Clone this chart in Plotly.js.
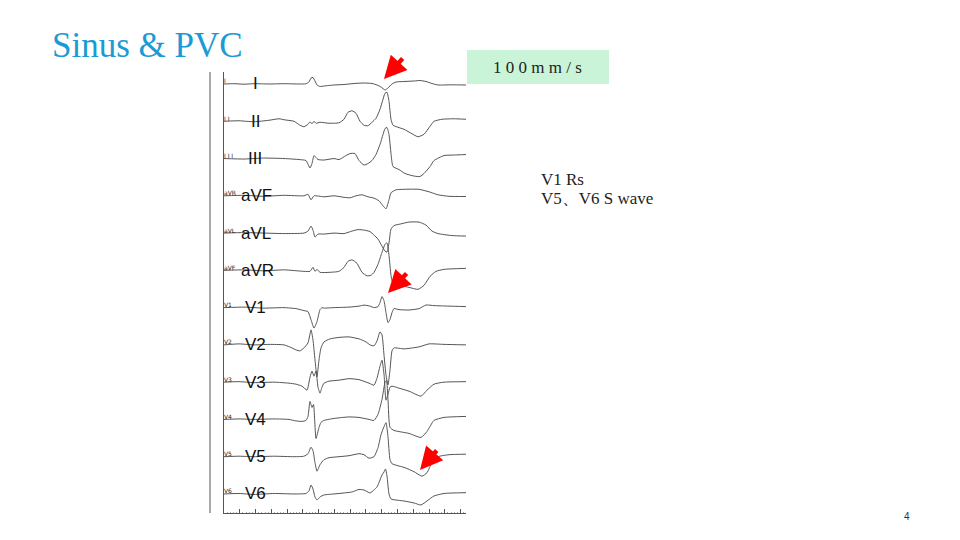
<!DOCTYPE html>
<html>
<head>
<meta charset="utf-8">
<script src="https://cdn.plot.ly/plotly-3.0.1.min.js"></script>
<style>html,body{margin:0;padding:0;background:#fff;}#chart{width:960px;height:540px;}</style>
</head>
<body>
<div id="chart"></div>
<script>
// Samples at 400 Hz (2.5 ms per sample); amplitude in mm (0.1 mV)
const leadNames = ['I','II','III','aVF','aVL','aVR','V1','V2','V3','V4','V5','V6'];
const printedLabels = ['I','I I','I I I','aVR','aVL','aVF','V1','V2','V3','V4','V5','V6'];

const tI = [0,10,20,30,45,60,75,82,85,87,89,91,93,96,100,110,120,130,140,148,153,157,161,164,168,172,180,190,196,202,208,214,228,242];
const vI = [0,0.3,-0.2,0.3,0,0.3,0,0.2,2,6,6.5,3,-1,-2.5,-2,-1,-0.5,0.5,1,0.5,-1,-3,-6,-4,0,2,2.5,3,3.5,2.5,0.5,-1,-0.8,-1];

const tII = [0,15,30,45,55,60,70,76,80,84,86,88,90,92,96,105,115,120,124,128,132,136,140,144,148,152,156,159,161,163,165,167,169,174,180,188,194,200,206,210,218,230,242];
const vII = [0,0.5,-0.5,1,2.5,1.5,0,-4,-5.5,-3,-0.5,-2.5,0,-2,-1,-2,-1.5,2,9,10.5,8,0,-4,-4.5,-1,3,12,22,28,29,20,2,-4,-6,-8,-12.5,-15.5,-13,-5,0,2,2.5,2];

const tIII = [0,20,40,60,75,82,86,88,90,92,94,100,110,115,122,126,131,135,140,144,148,152,156,159,161,163,165,167,169,175,181,190,196,200,206,210,220,230,242];
const vIII = [0,-0.5,0.5,0,-1,-2,-9.5,-5,3,1,-1,-1.5,0,-1,3,5,5,-2,-6.5,-5,-2,4,14,24,30,31,24,5,-8,-11,-15,-17.5,-18,-15,-8,-2,3,3.5,4];

const taVF = [0,20,40,60,80,84,87,90,100,110,120,126,132,138,144,150,155,159,162,165,167,172,180,195,205,214,225,242];
const vaVF = [0,0.5,-0.5,0.5,0,1.5,-4,0,-1,0,-1.5,-2,0,1,-1,-2.3,-5,-10,-13,-4,3,6,6.5,6.5,4,1,-0.5,-0.7];

const taVL = [0,20,40,60,80,84,87,89,91,94,100,110,120,128,134,140,146,150,154,158,161,163,165,167,170,176,185,195,202,208,214,228,242];
const vaVL = [0,0.5,0,-0.5,0,2,7,3,-4,-1,-1,0,-0.5,2,3.5,3,1.5,-2,-6,-13,-18,-19,-10,4,7.5,9,11,11,8,2,-0.5,-2.5,-3];

const taVR = [0,20,40,60,80,86,89,91,93,96,105,115,120,124,128,133,138,143,147,150,154,158,161,163,165,167,169,176,185,194,200,206,212,220,242];
const vaVR = [0,0.5,-0.5,0.5,-1,-1,3,-1,1,-2,-2,-1,3,9,10.5,7,-2,-5.5,-5,-2,6,18,26,27.5,15,-5,-13,-15,-17,-19,-15,-6,-1,1,2];

const tV1 = [0,20,40,60,72,80,84,87,90,93,96,98,100,110,125,135,140,146,150,154,156,158,160,162,164,166,168,170,175,185,195,202,210,225,242];
const vV1 = [0,0.5,-0.5,0,-1,-3,-4,-12,-20.5,-14,-2,0,-0.5,0,0.5,1.5,2.5,1.5,0,1,5,11,7,-5,-15,-12,-5,-1,-2,-2.4,-1,2.6,2,1.5,1];

const tV2 = [0,15,30,45,60,68,72,76,80,84,87,89,91,93,95,97,100,106,115,125,135,142,146,150,153,156,158,160,162,164,166,168,170,180,195,205,220,242];
const vV2 = [0,1,0,0.5,0,-3,-5,-6,-3,2,15,5,-15,-32,-15,-3,3,6,7.5,8,6,3,0,-1,4,13,10,-10,-30,-40,-25,-6,-3,-4,-2,1,0.5,0];

const tV3 = [0,15,30,50,65,72,78,83,86,88,90,92,94,96,98,100,105,115,125,135,145,150,153,156,158,160,162,164,166,168,175,185,197,203,210,220,242];
const vV3 = [0,0.5,-0.5,0,-1,-2,-4,-8,5,11,6,11,-5,-11,-5,-1,1,2,3.5,2.5,-1,-3,4,16,22,8,-18,-12,-5,-4,-6,-9,-14,-8,-2,0,0.5];

const tV4 = [0,15,30,50,65,72,78,82,84,86,88,89.5,92,95,97,100,110,125,135,145,150,154,158,161,162.5,164,166,170,185,197,203,210,220,242];
const vV4 = [0,0.5,0,0.5,0,-1.5,-2,-1,3,18,12,15,-19,-8,-3,-1,1,2.5,2,0,-1,5,20,37,39,20,-8,-11,-14,-18,-12,-1,2,3];

const tV5 = [0,15,30,50,70,80,84,87,89,91,93,96,100,105,115,125,135,140,145,150,154,157,160,162,164,166,168,181,190,198,203,208,214,225,242];
const vV5 = [0,0.5,0,0.5,0,0.5,3,9.5,6,-6,-14.5,-8,-3,-1,0,1,3,2,-1.5,0,9,22,30,34,20,-3,-7,-11,-15,-19.5,-16,-6,0,2,2.5];

const tV6 = [0,15,30,50,70,82,85,87,89,91,93,96,100,110,120,128,135,140,146,150,153,156,158,160,161.5,163,165,167,180,190,197,203,210,220,242];
const vV6 = [0,0.5,-0.5,0.5,0,0.5,3,9,5,-3,-6,-3,-1,0,1,2,4.5,4,1,4,7,14,19,22,25,18,0,-5,-7,-9,-11,-7,-2,0.5,1.3];

const leadT = [tI,tII,tIII,taVF,taVL,taVR,tV1,tV2,tV3,tV4,tV5,tV6];
const leadV = [vI,vII,vIII,vaVF,vaVL,vaVR,vV1,vV2,vV3,vV4,vV5,vV6];

const speedText = '1 0 0 m m / s';
const noteLines = ['V1 Rs', 'V5、V6 S wave'];
const titleText = 'Sinus &amp; PVC';
const pageNo = '4';

// ---- layout helpers ----
const W = 960, H = 540;
const rowGap = 37.27;           // mm between lead baselines
const px = x => x / W;
const py = y => 1 - y / H;

const traces = leadNames.map((name, i) => ({
  type: 'scatter', mode: 'lines', name: name,
  x: leadT[i],
  y: leadV[i].map(v => v - i * rowGap),
  line: {color: '#555555', width: 1, shape: 'spline', smoothing: 0.5},
  hoverinfo: 'skip'
}));

const annotations = [];
leadNames.forEach((name, i) => {
  const base = -i * rowGap;
  let ann = {xref: 'paper', yref: 'y', y: base, text: name, showarrow: false,
             font: {family: 'Liberation Sans, Arial, sans-serif', size: 17, color: '#111'}, yanchor: 'middle'};
  if (i < 3) { ann.x = px(255); ann.xanchor = 'center'; }
  else if (i < 6) { ann.x = px(239); ann.xanchor = 'left'; }
  else { ann.x = px(243); ann.xanchor = 'left'; }
  annotations.push(ann);
  annotations.push({xref: 'paper', yref: 'y', x: px(222), y: base + 3, text: printedLabels[i], showarrow: false,
    xanchor: 'left', yanchor: 'middle', font: {family: 'DejaVu Sans', size: 6, color: '#222'}});
});

// red arrows (tip position, tail offset in px)
[[384, 79, 20, -22], [388, 293, 20, -21], [420, 470, 18, -21]].forEach(a => {
  annotations.push({xref: 'paper', yref: 'paper', x: px(a[0]), y: py(a[1]), ax: a[2], ay: a[3],
    text: '', showarrow: true, arrowhead: 2, arrowsize: 1, arrowwidth: 4.5, arrowcolor: '#ff0000', standoff: 0});
});

annotations.push({xref: 'paper', yref: 'paper', x: px(537), y: py(67), text: speedText, showarrow: false,
  xanchor: 'center', yanchor: 'middle', font: {family: 'Liberation Serif, Times New Roman, serif', size: 17, color: '#222'}});
annotations.push({xref: 'paper', yref: 'paper', x: px(539), y: py(180), text: noteLines[0], showarrow: false,
  xanchor: 'left', yanchor: 'middle', font: {family: 'Liberation Serif, Times New Roman, serif', size: 17, color: '#222'}});
annotations.push({xref: 'paper', yref: 'paper', x: px(539), y: py(199), text: noteLines[1], showarrow: false,
  xanchor: 'left', yanchor: 'middle', font: {family: 'Liberation Serif, Times New Roman, serif', size: 17, color: '#222'}});
annotations.push({xref: 'paper', yref: 'paper', x: px(907), y: py(516), text: pageNo, showarrow: false,
  xanchor: 'center', yanchor: 'middle', font: {family: 'Liberation Sans, Arial, sans-serif', size: 10, color: '#333'}});

const layout = {
  width: W, height: H,
  margin: {l: 0, r: 0, t: 0, b: 0},
  paper_bgcolor: '#fff', plot_bgcolor: '#fff',
  showlegend: false, hovermode: false,
  title: {text: titleText, x: px(52), xanchor: 'left', xref: 'paper', y: py(45), yanchor: 'middle', yref: 'paper',
          font: {family: 'Liberation Serif, Times New Roman, serif', size: 35, color: '#1b9ad6'}},
  xaxis: {domain: [px(224), px(466)], range: [0, 242], showline: true, linecolor: '#555', linewidth: 1,
          ticks: 'inside', ticklen: 4, tickcolor: '#555', tick0: 0, dtick: 15.77, showticklabels: false,
          showgrid: false, zeroline: false, fixedrange: true,
          minor: {ticks: 'inside', ticklen: 1.5, tickcolor: '#aaa', dtick: 3.154, showgrid: false}},
  yaxis: {domain: [1 - 513 / H, 1 - 72 / H], range: [-429, 12], showline: true, linecolor: '#555', linewidth: 1,
          ticks: '', showticklabels: false, showgrid: false, zeroline: false, fixedrange: true},
  shapes: [
    {type: 'line', xref: 'paper', yref: 'paper', x0: px(210), x1: px(210), y0: py(72), y1: py(513),
     line: {color: '#555', width: 1}},
    {type: 'rect', xref: 'paper', yref: 'paper', x0: px(467), x1: px(609), y0: py(50), y1: py(84),
     fillcolor: '#c9f4d8', line: {width: 0}, layer: 'below'}
  ],
  annotations: annotations
};

Plotly.newPlot('chart', traces, layout, {staticPlot: true, displayModeBar: false});
</script>
</body>
</html>
